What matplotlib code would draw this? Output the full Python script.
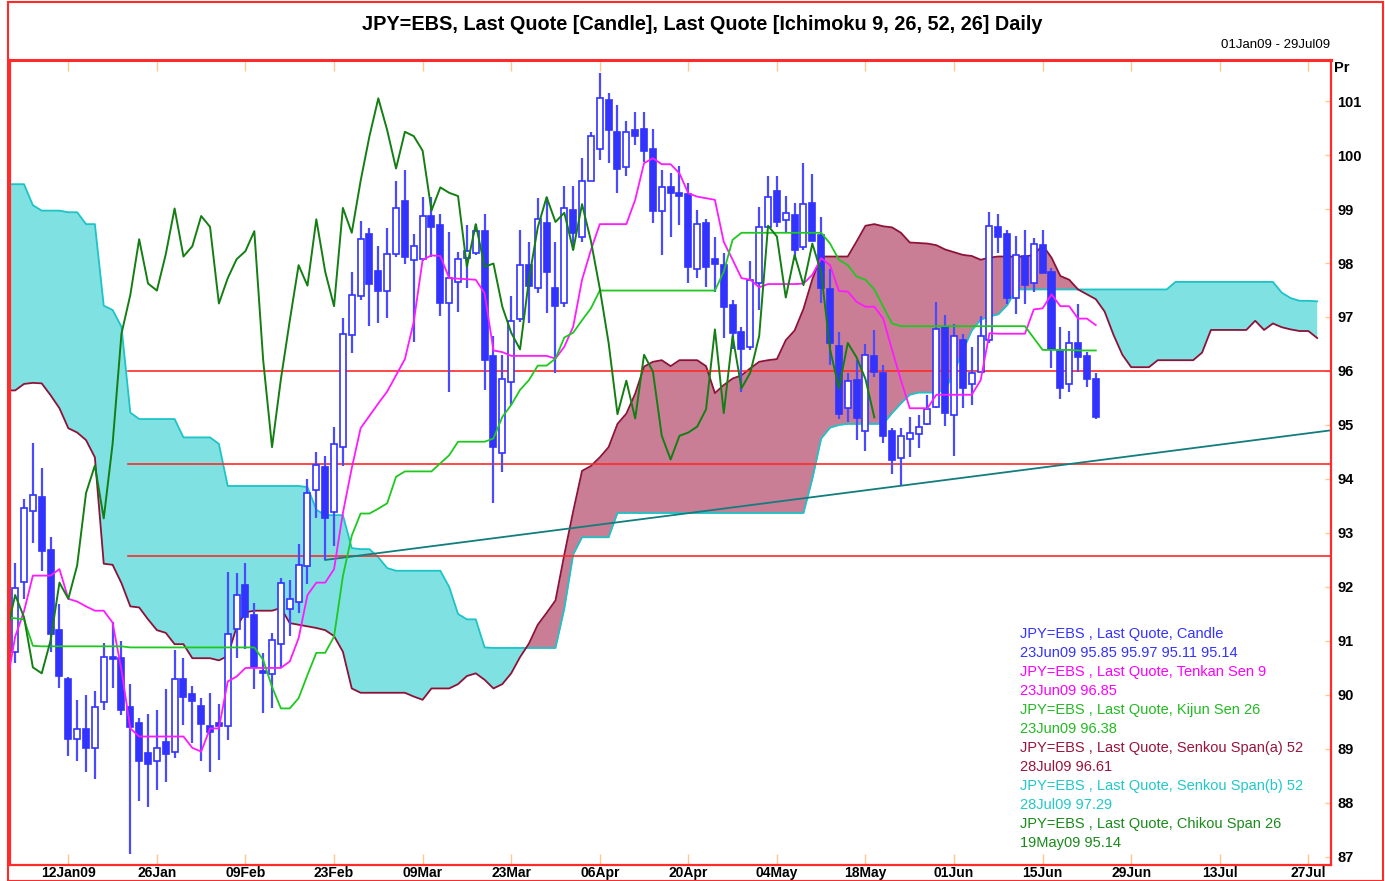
import matplotlib
matplotlib.use("Agg")
import matplotlib.pyplot as plt
from matplotlib.patches import Rectangle
import numpy as np

plt.rcParams['font.family'] = ['Liberation Sans', 'DejaVu Sans']

# ---------------- data (trading-day index 0 = 02Jan09) ----------------
opens = [90.80, 92.09, 93.41, 93.67, 92.69, 91.20, 90.30, 89.18, 89.37, 89.02,
         89.86, 90.70, 90.68, 89.77, 89.48, 88.92, 88.78, 89.12, 88.95, 90.30,
         90.02, 89.80, 89.43, 89.48, 89.43, 91.22, 92.04, 91.48, 90.45, 90.39,
         90.94, 91.59, 91.72, 92.39, 93.80, 94.23, 93.39, 94.59, 96.67, 97.39,
         98.54, 97.86, 97.49, 98.16, 99.15, 98.06, 98.08, 98.87, 98.70, 97.25,
         97.65, 98.09, 98.18, 98.59, 96.28, 94.49, 95.79, 96.96, 97.96, 97.54,
         98.75, 97.54, 97.25, 98.98, 98.49, 99.51, 100.11, 101.01, 100.43, 99.77,
         100.46, 100.48, 100.11, 98.97, 99.40, 99.30, 99.28, 97.88, 98.75, 98.07,
         97.96, 97.23, 96.73, 96.44, 97.63, 98.67, 99.34, 98.80, 98.89, 98.29,
         99.12, 98.52, 97.51, 96.46, 95.31, 95.83, 94.88, 96.28, 95.96, 94.88,
         94.38, 94.74, 94.83, 95.02, 95.34, 96.81, 95.19, 96.57, 95.76, 95.99,
         96.57, 98.67, 98.54, 97.35, 98.13, 97.63, 98.33, 97.84, 96.37, 95.76,
         96.52, 96.28, 95.85]
highs = [92.44, 93.62, 94.67, 94.20, 92.93, 91.68, 90.33, 89.91, 90.00, 90.08,
         90.96, 91.36, 91.00, 90.20, 89.57, 89.65, 89.72, 90.11, 90.83, 90.68,
         90.17, 89.94, 90.03, 89.83, 92.28, 92.25, 92.45, 91.71, 90.77, 91.15,
         92.16, 92.12, 92.79, 94.00, 94.50, 94.43, 94.97, 96.99, 97.84, 98.77,
         98.64, 98.31, 98.64, 99.52, 99.72, 98.54, 99.23, 99.23, 98.90, 98.57,
         98.21, 98.70, 98.72, 98.90, 96.65, 96.30, 97.38, 98.61, 98.39, 99.20,
         99.23, 98.39, 99.43, 99.43, 99.95, 100.43, 101.51, 101.15, 100.93, 100.63,
         100.79, 100.79, 100.48, 99.72, 99.66, 99.80, 99.48, 98.98, 98.81, 98.49,
         98.19, 97.31, 96.82, 98.04, 99.04, 99.61, 99.61, 99.24, 99.12, 99.85,
         99.65, 98.86, 97.88, 96.73, 95.97, 96.20, 96.50, 96.76, 96.11, 94.94,
         94.94, 95.15, 95.19, 95.56, 97.28, 97.04, 96.87, 96.68, 96.45, 97.01,
         98.95, 98.90, 98.61, 98.50, 98.61, 98.46, 98.62, 97.90, 96.81, 96.74,
         97.24, 96.36, 95.97]
lows = [90.59, 91.78, 92.81, 92.30, 90.80, 90.12, 88.86, 88.77, 88.57, 88.44,
        89.72, 90.12, 89.63, 87.06, 88.04, 87.93, 88.24, 88.38, 88.84, 89.44,
        89.11, 88.77, 88.57, 88.80, 89.17, 90.69, 90.85, 90.11, 89.66, 89.76,
        90.52, 91.09, 91.52, 92.06, 93.28, 92.50, 92.75, 94.24, 96.33, 97.31,
        96.84, 96.89, 96.98, 98.12, 97.98, 96.54, 98.04, 98.12, 97.01, 95.62,
        97.10, 97.53, 98.15, 95.65, 93.55, 94.13, 95.37, 96.91, 96.88, 97.44,
        97.07, 95.96, 97.19, 98.25, 98.39, 99.51, 99.91, 99.85, 99.29, 99.61,
        100.18, 99.88, 98.74, 98.15, 98.49, 98.70, 97.63, 97.72, 97.56, 97.47,
        96.61, 96.40, 95.62, 96.39, 97.13, 98.67, 98.67, 98.56, 98.06, 98.24,
        98.40, 97.25, 96.11, 95.11, 95.06, 94.72, 94.52, 95.89, 94.66, 94.10,
        93.89, 94.40, 94.57, 95.00, 95.31, 94.98, 94.43, 95.31, 95.37, 95.99,
        96.51, 98.18, 97.24, 97.06, 97.24, 97.47, 97.82, 96.05, 95.49, 95.62,
        95.99, 95.70, 95.11]
closes = [91.98, 93.47, 93.70, 92.67, 91.13, 90.35, 89.18, 89.37, 89.02, 89.77,
          90.70, 90.66, 89.72, 89.40, 88.77, 88.72, 89.01, 88.90, 90.30, 89.97,
          89.88, 89.46, 89.32, 89.43, 91.12, 91.85, 91.44, 90.51, 90.40, 91.01,
          92.08, 91.78, 92.40, 93.74, 94.25, 93.27, 94.65, 96.69, 97.41, 98.44,
          97.62, 97.49, 98.16, 99.01, 98.12, 98.31, 98.87, 98.67, 97.25, 97.72,
          98.07, 98.22, 98.59, 96.20, 94.59, 95.85, 96.93, 97.96, 97.58, 98.81,
          97.84, 97.20, 99.02, 98.56, 99.52, 100.35, 101.05, 100.46, 99.75, 100.43,
          100.35, 100.08, 98.97, 99.40, 99.30, 99.24, 97.93, 98.72, 97.93, 97.99,
          97.19, 96.71, 96.40, 97.69, 98.66, 99.22, 98.76, 98.93, 98.24, 99.09,
          98.41, 97.53, 96.52, 95.20, 95.82, 95.12, 96.30, 95.99, 94.80, 94.36,
          94.80, 94.86, 94.97, 95.29, 96.77, 95.22, 96.65, 95.68, 95.97, 96.65,
          98.69, 98.49, 97.36, 98.15, 97.59, 98.36, 97.82, 96.40, 95.68, 96.52,
          96.25, 95.85, 95.14]

# Ichimoku lines, values per trading day starting at index -1 (01Jan09)
tenkan = [90.14, 91.08, 91.55, 92.21, 92.21, 92.21, 92.33, 91.78, 91.73, 91.64,
          91.56, 91.56, 91.34, 90.46, 89.38, 89.23, 89.23, 89.23, 89.23, 89.23,
          89.23, 89.02, 88.95, 89.38, 89.38, 90.25, 90.34, 90.50, 90.50, 90.50,
          90.50, 90.50, 90.62, 91.05, 91.85, 92.08, 92.08, 92.33, 93.37, 94.20,
          94.94, 95.17, 95.40, 95.62, 95.92, 96.22, 96.91, 98.06, 98.14, 98.13,
          97.72, 97.71, 97.70, 97.69, 97.44, 96.38, 96.35, 96.28, 96.28, 96.28,
          96.28, 96.28, 96.23, 96.45, 96.82, 97.69, 98.24, 98.72, 98.72, 98.72,
          98.72, 99.17, 99.85, 99.94, 99.83, 99.83, 99.66, 99.29, 99.23, 99.20,
          99.17, 98.39, 98.06, 97.72, 97.69, 97.55, 97.61, 97.61, 97.61, 97.61,
          97.62, 97.78, 98.09, 97.96, 97.48, 97.47, 97.28, 97.19, 97.19, 96.97,
          96.39, 95.83, 95.31, 95.31, 95.31, 95.56, 95.56, 95.56, 95.56, 95.56,
          95.83, 96.70, 96.69, 96.69, 96.69, 96.69, 97.14, 97.16, 97.42, 97.20,
          97.20, 96.97, 96.97, 96.85]
kijun = [91.43, 91.42, 91.40, 90.91, 90.90, 90.90, 90.90, 90.90, 90.90, 90.90,
         90.90, 90.90, 90.90, 90.90, 90.88, 90.88, 90.88, 90.88, 90.88, 90.88,
         90.88, 90.88, 90.88, 90.88, 90.88, 90.88, 90.88, 90.88, 90.88, 90.65,
         90.15, 89.75, 89.75, 89.94, 90.37, 90.78, 90.78, 91.08, 92.20, 92.95,
         93.36, 93.36, 93.45, 93.55, 94.04, 94.14, 94.14, 94.14, 94.14, 94.29,
         94.44, 94.69, 94.69, 94.69, 94.69, 94.75, 95.15, 95.37, 95.65, 95.83,
         96.10, 96.10, 96.23, 96.62, 96.71, 96.94, 97.16, 97.49, 97.49, 97.49,
         97.49, 97.49, 97.49, 97.49, 97.49, 97.49, 97.49, 97.49, 97.49, 97.49,
         97.49, 97.84, 98.43, 98.56, 98.56, 98.56, 98.56, 98.56, 98.56, 98.56,
         98.56, 98.56, 98.56, 98.36, 98.06, 97.96, 97.75, 97.69, 97.51, 97.19,
         96.88, 96.83, 96.83, 96.83, 96.83, 96.83, 96.83, 96.83, 96.83, 96.83,
         96.83, 96.83, 96.83, 96.83, 96.83, 96.83, 96.61, 96.39, 96.39, 96.39,
         96.39, 96.38, 96.38, 96.38]
senkou_a = [95.64, 95.64, 95.76, 95.78, 95.77, 95.55, 95.31, 94.94, 94.86, 94.72,
            94.40, 92.43, 92.41, 92.07, 91.64, 91.62, 91.40, 91.20, 91.15, 90.94,
            90.94, 90.68, 90.68, 90.68, 90.64, 90.72, 91.26, 91.53, 91.56, 91.56,
            91.56, 91.61, 91.33, 91.30, 91.27, 91.24, 91.20, 91.09, 90.80, 90.12,
            90.04, 90.04, 90.04, 90.04, 90.04, 90.04, 89.97, 89.91, 90.12, 90.12,
            90.12, 90.20, 90.35, 90.40, 90.28, 90.12, 90.20, 90.40, 90.70, 90.95,
            91.30, 91.52, 91.75, 92.60, 93.40, 94.15, 94.24, 94.40, 94.59, 95.02,
            95.21, 95.58, 96.08, 96.17, 96.20, 96.09, 96.20, 96.20, 96.20, 96.09,
            95.59, 95.74, 95.86, 95.92, 96.05, 96.17, 96.20, 96.22, 96.57, 96.75,
            97.15, 97.70, 98.12, 98.12, 98.12, 98.12, 98.40, 98.69, 98.72, 98.68,
            98.66, 98.56, 98.38, 98.37, 98.36, 98.33, 98.25, 98.20, 98.15, 98.13,
            98.06, 98.10, 98.12, 98.12, 98.12, 98.12, 98.15, 98.33, 98.10, 97.76,
            97.69, 97.51, 97.42, 97.33, 97.10, 96.67, 96.30, 96.07, 96.07, 96.07,
            96.20, 96.20, 96.20, 96.20, 96.20, 96.34, 96.76, 96.76, 96.76, 96.76,
            96.76, 96.93, 96.76, 96.88, 96.81, 96.77, 96.74, 96.74, 96.61]
senkou_b = [99.46, 99.46, 99.46, 99.07, 98.97, 98.97, 98.97, 98.94, 98.94, 98.72,
            98.72, 97.21, 97.13, 96.82, 95.23, 95.11, 95.11, 95.11, 95.11, 95.11,
            94.77, 94.77, 94.77, 94.77, 94.65, 93.87, 93.87, 93.87, 93.87, 93.87,
            93.87, 93.87, 93.87, 93.87, 93.85, 93.43, 93.33, 93.33, 93.33, 92.72,
            92.70, 92.70, 92.55, 92.35, 92.30, 92.30, 92.30, 92.30, 92.30, 92.30,
            92.00, 91.50, 91.40, 91.40, 90.88, 90.87, 90.87, 90.87, 90.87, 90.87,
            90.87, 90.87, 90.87, 91.60, 92.60, 92.92, 92.92, 92.92, 92.92, 93.37,
            93.37, 93.37, 93.37, 93.37, 93.37, 93.37, 93.37, 93.37, 93.37, 93.37,
            93.37, 93.37, 93.37, 93.37, 93.37, 93.37, 93.37, 93.37, 93.37, 93.37,
            93.37, 94.00, 94.75, 94.95, 95.00, 95.02, 95.02, 95.02, 95.02, 95.02,
            95.22, 95.40, 95.56, 95.60, 95.60, 95.60, 95.65, 95.99, 96.38, 96.75,
            96.95, 97.01, 97.05, 97.22, 97.51, 97.51, 97.51, 97.51, 97.51, 97.51,
            97.51, 97.51, 97.51, 97.51, 97.51, 97.51, 97.51, 97.51, 97.51, 97.51,
            97.51, 97.51, 97.65, 97.65, 97.65, 97.65, 97.65, 97.65, 97.65, 97.65,
            97.65, 97.65, 97.65, 97.65, 97.45, 97.35, 97.30, 97.30, 97.29]
CHIKOU_SHIFT = 25

# drawn lines
hlines = [96.00, 94.28, 92.57]
hline_start = 12.7
trend_x = [35.0, 148.5]
trend_y = [92.50, 94.90]

xtick_pos = [6, 16, 26, 36, 46, 56, 66, 76, 86, 96, 106, 116, 126, 136, 146]
xtick_lab = ['12Jan09', '26Jan', '09Feb', '23Feb', '09Mar', '23Mar', '06Apr',
             '20Apr', '04May', '18May', '01Jun', '15Jun', '29Jun', '13Jul', '27Jul']
yticks = list(range(87, 102))

legend_lines = [
    ("JPY=EBS , Last Quote, Candle", '#3333ff'),
    ("23Jun09 95.85 95.97 95.11 95.14", '#3333ff'),
    ("JPY=EBS , Last Quote, Tenkan Sen 9", '#ff00ff'),
    ("23Jun09 96.85", '#ff00ff'),
    ("JPY=EBS , Last Quote, Kijun Sen 26", '#22bb22'),
    ("23Jun09 96.38", '#22bb22'),
    ("JPY=EBS , Last Quote, Senkou Span(a) 52", '#99143c'),
    ("28Jul09 96.61", '#99143c'),
    ("JPY=EBS , Last Quote, Senkou Span(b) 52", '#22c8c8'),
    ("28Jul09 97.29", '#22c8c8'),
    ("JPY=EBS , Last Quote, Chikou Span 26", '#1a8a1a'),
    ("19May09 95.14", '#1a8a1a'),
]

# ---------------- figure ----------------
W, H = 1385, 881
fig = plt.figure(figsize=(W / 100, H / 100), dpi=100)
L, R, T, B = 9.5, 1330.5, 60, 865
ax = fig.add_axes([L / W, (H - B) / H, (R - L) / W, (B - T) / H])
ax.set_xlim(-0.64, 148.5)
ax.set_ylim(86.85, 101.76)

RED = '#ff2a2a'
BLUE = '#3333ff'
WICK = '#4a4aff'
CYAN_FILL = '#7fe1e1'
CYAN_LINE = '#1cc4c8'
MAR_FILL = '#c97e96'
MAR_LINE = '#8c1238'

n = len(closes)
idx = np.arange(n)
cx = np.arange(-1, -1 + len(senkou_a))
sa = np.array(senkou_a)
sb = np.array(senkou_b)

# cloud
ax.fill_between(cx, sa, sb, where=sb >= sa, interpolate=True, color=CYAN_FILL, lw=0, zorder=1)
ax.fill_between(cx, sa, sb, where=sa >= sb, interpolate=True, color=MAR_FILL, lw=0, zorder=1)
ax.plot(cx, sb, color=CYAN_LINE, lw=1.3, zorder=2)
ax.plot(cx, sa, color=MAR_LINE, lw=1.3, zorder=2)

# red horizontal lines and trend line
for h in hlines:
    ax.plot([hline_start, 148.5], [h, h], color=RED, lw=1.2, zorder=2.5)
ax.plot(trend_x, trend_y, color='#127d7d', lw=1.3, zorder=2.5)

# candles
o = np.array(opens); c = np.array(closes); hi = np.array(highs); lo = np.array(lows)
ax.vlines(idx, lo, hi, color=WICK, lw=1.6, zorder=3)
up = c >= o
bw = 0.68
ax.bar(idx[up], np.maximum(c[up] - o[up], 0.02), bottom=o[up], width=bw,
       facecolor='white', edgecolor=BLUE, lw=1.2, zorder=3.5)
ax.bar(idx[~up], o[~up] - c[~up], bottom=c[~up], width=bw,
       facecolor=BLUE, edgecolor=BLUE, lw=1.2, zorder=3.5)

# ichimoku lines
tx = np.arange(-1, -1 + len(tenkan))
ax.plot(tx, tenkan, color='#ff1aff', lw=1.3, zorder=4)
ax.plot(tx, kijun, color='#1ec81e', lw=1.3, zorder=4)
ax.plot(idx - CHIKOU_SHIFT, closes, color='#137f13', lw=1.4, zorder=4)

# axes styling
for s in ax.spines.values():
    s.set_color(RED)
    s.set_linewidth(1.6)
ax.spines['top'].set_linewidth(2.2)
ax.yaxis.tick_right()
ax.set_yticks(yticks)
ax.set_yticklabels([str(v) for v in yticks], fontweight='bold', fontsize=10.5)
ax.tick_params(axis='y', direction='in', length=4, width=1, color='#ffc890', pad=5)
ax.set_xticks(xtick_pos)
ax.set_xticklabels(xtick_lab, fontweight='bold', fontsize=10)
ax.tick_params(axis='x', direction='in', length=8, width=1, color='#ffc890',
               top=True, bottom=True, pad=1)

# texts
fig.text(702 / W, 1 - 24 / H, "JPY=EBS, Last Quote [Candle], Last Quote [Ichimoku 9, 26, 52, 26] Daily",
         ha='center', va='center', fontsize=14.3, fontweight='bold')
fig.text(1330 / W, 1 - 45 / H, "01Jan09 - 29Jul09", ha='right', va='center', fontsize=9.5)
fig.text(1334 / W, 1 - 68 / H, "Pr", ha='left', va='center', fontsize=10.5, fontweight='bold')

for k, (txt, col) in enumerate(legend_lines):
    fig.text(1020 / W, 1 - (634 + 19 * k) / H, txt, ha='left', va='center',
             fontsize=10.5, color=col, zorder=10)

# outer frame
fig.patches.append(Rectangle((8 / W, 0.5 / H), (1383 - 8) / W, (H - 2) / H,
                             transform=fig.transFigure, fill=False, edgecolor=RED, lw=1.5))

fig.savefig('out.png', dpi=100)
